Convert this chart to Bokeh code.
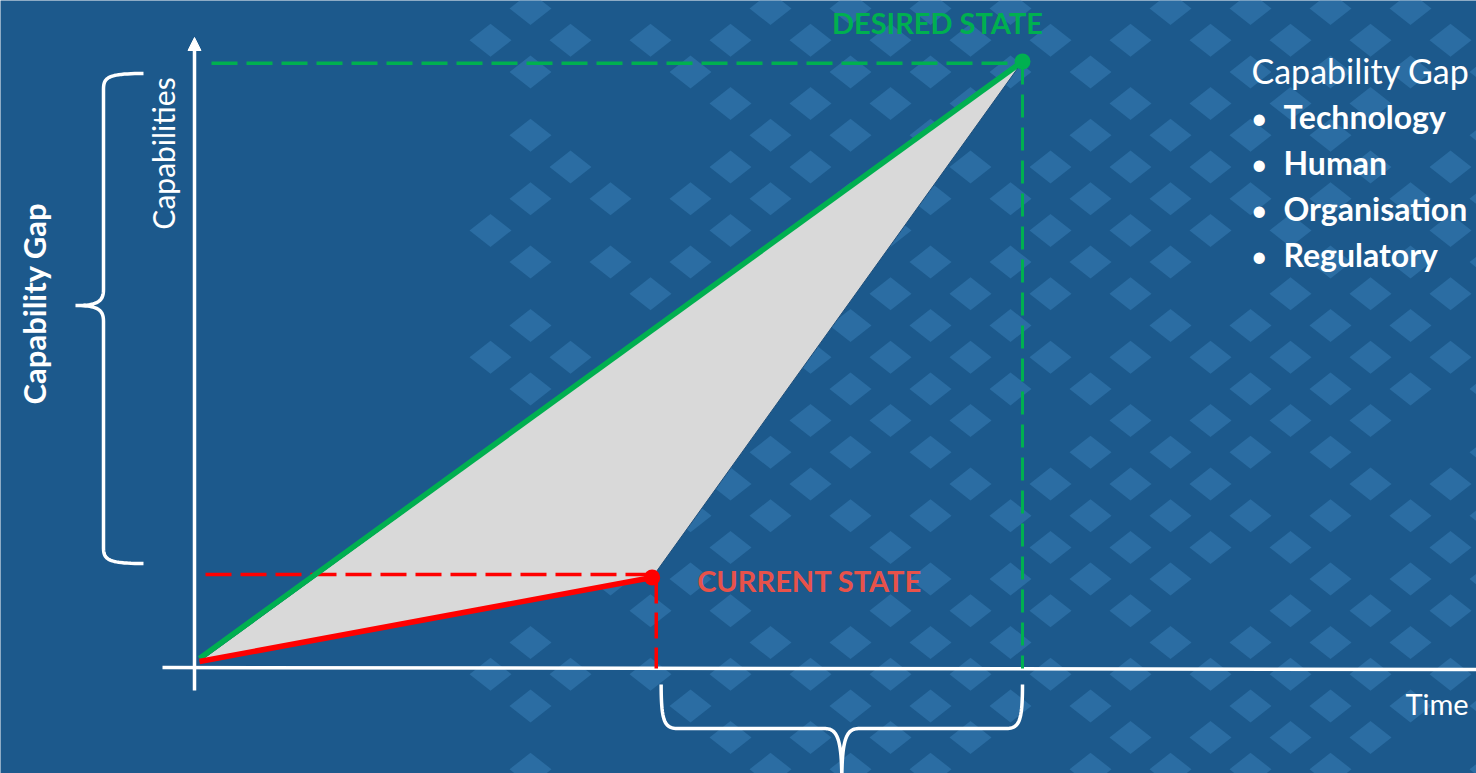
import numpy as np
from bokeh.plotting import figure
from bokeh.models import Range1d, Arrow, NormalHead, Label
from bokeh.embed import file_html
from bokeh.resources import INLINE

# ---------------- data ----------------
states = ["Origin", "Current State", "Desired State"]
time = [0.0, 5.5, 10.0]
capability = [0.0, 1.4, 10.0]
gap_title = "Capability Gap"
gap_dimensions = ["Technology", "Human", "Organisation", "Regulatory"]
x_label = "Time"
y_label = "Capabilities"

# ---------------- layout constants ----------------
W, H = 1476, 773
PX_T = 82.3     # pixels per time unit
PX_C = 60.0     # pixels per capability unit
OX, OY = 199, 661  # pixel position of the origin
BG = "#1c598c"
GREEN = "#00b050"
RED = "#ff0000"
FONT = "Lato"

def X(px):  # pixel column -> data x
    return (px - OX) / PX_T

def Y(py):  # pixel row -> data y
    return (OY - py) / PX_C

p = figure(width=W, height=H, x_range=Range1d(X(0), X(W)), y_range=Range1d(Y(H), Y(0)),
           output_backend="svg", toolbar_location=None, min_border=0,
           x_axis_type=None, y_axis_type=None)
p.grid.visible = False
p.outline_line_color = None
p.background_fill_color = BG
p.border_fill_color = BG

# ---------------- decorative diamond lattice ----------------
xs_d, ys_d = [], []
for j in range(0, 26):
    cy = 8 + 31.7 * j
    for k in range(0, 38):
        if (k + j) % 2 == 0:
            continue
        cx = 10 + 40 * k
        if cx < 470:
            continue
        dens = min(9, 3 + (cx - 470) / 90.0)
        h = (k * 37 + j * 91 + k * j * 13) % 10
        if h >= dens:
            continue
        hw, hh = 21, 16.5
        xs_d.append([X(cx - hw), X(cx), X(cx + hw), X(cx)])
        ys_d.append([Y(cy), Y(cy - hh), Y(cy), Y(cy + hh)])
p.patches(xs_d, ys_d, fill_color="#3a82ba", fill_alpha=0.5, line_color=None)

# ---------------- axes ----------------
p.line([X(162), X(W)], [Y(667), Y(669)], line_color="white", line_width=3.5)
p.add_layout(Arrow(end=NormalHead(size=13, fill_color="white", line_color="white"),
                   x_start=X(194), y_start=Y(690), x_end=X(194), y_end=Y(37),
                   line_color="white", line_width=3.5))

# ---------------- gap triangle ----------------
p.patch(time, capability, fill_color="#d9d9d9", line_color="#1f4e79", line_width=1)

# dashed guides
p.line([X(205), time[1]], [capability[1] + 0.05, capability[1] + 0.05],
       line_color=RED, line_width=3.5, line_dash="26 9")
p.line([time[1] + 0.05, time[1] + 0.05], [capability[1], Y(668)],
       line_color=RED, line_width=3.5, line_dash="26 9")
p.line([X(211), time[2]], [capability[2] - 0.03, capability[2] - 0.03],
       line_color=GREEN, line_width=3.5, line_dash="26 9")
p.line([time[2], time[2]], [capability[2], Y(668)],
       line_color=GREEN, line_width=3, line_dash="23 10")

# trajectories
p.line([time[0], time[2]], [capability[0] + 0.05, capability[2]], line_color=GREEN, line_width=5.5)
p.line([time[0], time[1]], [capability[0], capability[1]], line_color=RED, line_width=5.5)
p.scatter([time[1]], [capability[1]], size=16, fill_color=RED, line_color=None)
p.scatter([time[2]], [capability[2]], size=16, fill_color=GREEN, line_color=None)

# ---------------- braces ----------------
def cubic(p0, c0, c1, p1, n=24):
    t = np.linspace(0, 1, n)[:, None]
    P = ((1 - t) ** 3) * np.array(p0) + 3 * ((1 - t) ** 2) * t * np.array(c0) \
        + 3 * (1 - t) * t ** 2 * np.array(c1) + t ** 3 * np.array(p1)
    return P

def brace_h(xl, xr, ytop, ybar, ytip):
    xm = (xl + xr) / 2
    segs = [
        cubic((xl, ytop), (xl, ybar - 4), (xl + 4, ybar), (xl + 18, ybar)),
        np.array([(xl + 18, ybar), (xm - 18, ybar)]),
        cubic((xm - 18, ybar), (xm - 6, ybar), (xm, ybar + 6), (xm, ytip)),
        cubic((xm, ytip), (xm, ybar + 6), (xm + 6, ybar), (xm + 18, ybar)),
        np.array([(xm + 18, ybar), (xr - 18, ybar)]),
        cubic((xr - 18, ybar), (xr - 4, ybar), (xr, ybar - 4), (xr, ytop)),
    ]
    P = np.vstack(segs)
    return [X(v) for v in P[:, 0]], [Y(v) for v in P[:, 1]]

def brace_v(ytop, ybot, xend, xbar, xtip, ytip):
    segs = [
        cubic((xend, ytop), (xbar + 4, ytop), (xbar, ytop + 4), (xbar, ytop + 16)),
        np.array([(xbar, ytop + 16), (xbar, ytip - 16)]),
        cubic((xbar, ytip - 16), (xbar, ytip - 4), (xbar - 6, ytip), (xtip, ytip)),
        cubic((xtip, ytip), (xbar - 6, ytip), (xbar, ytip + 4), (xbar, ytip + 16)),
        np.array([(xbar, ytip + 16), (xbar, ybot - 16)]),
        cubic((xbar, ybot - 16), (xbar, ybot - 4), (xbar + 4, ybot), (xend, ybot)),
    ]
    P = np.vstack(segs)
    return [X(v) for v in P[:, 0]], [Y(v) for v in P[:, 1]]

# bottom brace spans current -> desired time
bx0 = OX + time[1] * PX_T + 9
bx1 = OX + time[2] * PX_T
bxs, bys = brace_h(bx0, bx1, 684, 728, 780)
p.line(bxs, bys, line_color="white", line_width=3.5)

# left brace spans current -> desired capability
ly0 = OY - capability[2] * PX_C + 12
ly1 = OY - capability[1] * PX_C - 14
lxs, lys = brace_v(ly0, ly1, 143, 103, 75, 305)
p.line(lxs, lys, line_color="white", line_width=3.5)

# ---------------- texts ----------------
def lab(x, y, text, size, color="white", bold=False, angle=0.0, align="left",
        baseline="middle", x_off=0, y_off=0):
    p.add_layout(Label(x=x, y=y, text=text, text_font=FONT, text_font_size=f"{size}px",
                       text_color=color, text_font_style="bold" if bold else "normal",
                       angle=angle, text_align=align, text_baseline=baseline,
                       x_offset=x_off, y_offset=y_off))

lab(time[2], capability[2], states[2].upper(), 29, GREEN, True, align="center",
    x_off=-85, y_off=39)
lab(time[1], capability[1], states[1].upper(), 29, "#e8524a", True, align="left",
    x_off=45, y_off=-3)
lab(X(162), Y(153), y_label, 30, angle=np.pi / 2, align="center")
lab(X(33), Y(303), gap_title, 31, bold=True, angle=np.pi / 2, align="center")
lab(X(1251), Y(70), gap_title, 34)
for i, d in enumerate(gap_dimensions):
    yy = Y(116 + 46 * i)
    lab(X(1250), yy, "\u2022", 30)
    lab(X(1283), yy, d, 32, bold=True)
lab(X(1405), Y(703), x_label, 29)

open("out.html", "w").write(file_html(p, INLINE))
